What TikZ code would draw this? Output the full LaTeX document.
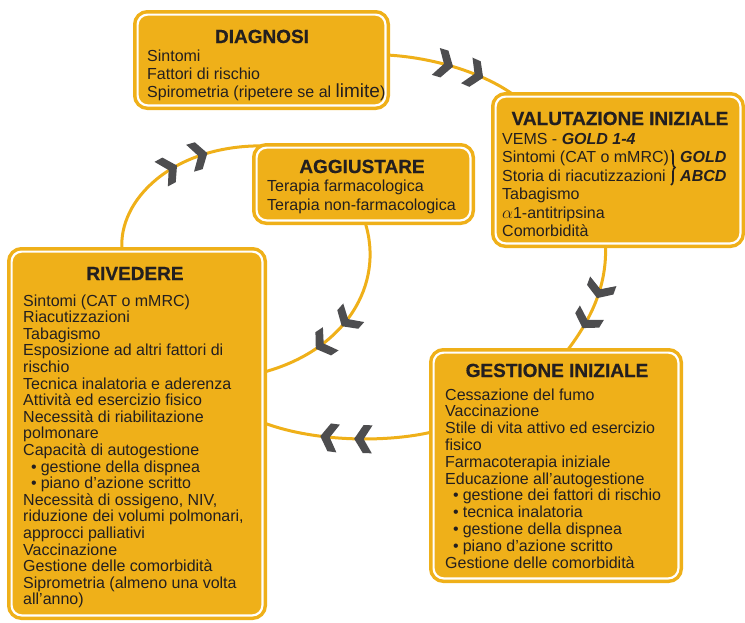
\documentclass[tikz,border=0pt]{standalone}
\usepackage{fontspec}
\setmainfont{Liberation Sans}
\usetikzlibrary{decorations.markings,decorations.pathreplacing,backgrounds}
\definecolor{gorange}{RGB}{239,176,25}
\definecolor{chevgray}{RGB}{77,77,79}
\definecolor{txt}{RGB}{35,31,32}
\newcommand\chevshape{\fill[chevgray] (0pt,0pt) -- (-9pt,14pt) -- (-18pt,14pt) -- (-9.5pt,0pt) -- (-18pt,-14pt) -- (-9pt,-14pt) -- cycle;}
\newcommand\bul{\hspace*{8pt}\textbullet\hspace{4pt}}
\begin{document}
\begin{tikzpicture}[x=1pt,y=-1pt,
  gbox/.style={draw=gorange, fill=gorange, line width=3.5pt, double=white, double distance=2.2pt, rounded corners=10pt, inner sep=0pt},
  ttl/.style={text=txt, font=\fontsize{19}{19}\selectfont\bfseries\addfontfeature{FakeBold=0.6}, inner sep=0pt, anchor=base},
  bdy/.style={text=txt, inner sep=0pt, anchor=base west},
  flow/.style={draw=gorange, line width=3pt},
  chevs/.style 2 args={postaction={decorate}, decoration={markings, mark=at position #1 with {\chevshape}, mark=at position #2 with {\chevshape}}}
]
\useasboundingbox (0,0) rectangle (745,622);

% boxes
\node[gbox, minimum width=247.8pt, minimum height=90.8pt] (diag) at (261.5,60) {};
\node[gbox, minimum width=244.8pt, minimum height=146.8pt] (val) at (618,170) {};
\node[gbox, minimum width=213.8pt, minimum height=72.8pt] (agg) at (363.5,184) {};
\node[gbox, minimum width=250.8pt, minimum height=363.8pt] (riv) at (137,433.5) {};
\node[gbox, minimum width=244.8pt, minimum height=225.8pt] (gest) at (556,465.5) {};

% titles
\node[ttl] (diagT) at (262,43) {DIAGNOSI};
\node[ttl] (valT) at (620,125) {VALUTAZIONE INIZIALE};
\node[ttl] (aggT) at (362,173) {AGGIUSTARE};
\node[ttl] (rivT) at (135,280) {RIVEDERE};
\node[ttl] (gestT) at (557,377) {GESTIONE INIZIALE};

% bodies
\node[bdy] (diagB) at (147,61.5) {\parbox[t]{240pt}{\fontsize{16}{18}\selectfont\raggedright
Sintomi\\
Fattori di rischio\\
Spirometria (ripetere se al {\fontsize{19}{18}\selectfont limite})}};

\node[bdy] (valB) at (502,144) {\parbox[t]{240pt}{\fontsize{16}{18.5}\selectfont\raggedright
VEMS - \textbf{\textit{GOLD 1-4}}\\
Sintomi (CAT o mMRC)\\
Storia di riacutizzazioni\\
Tabagismo\\
$\alpha$1-antitripsina\\
Comorbidità}};
\node[bdy, font=\fontsize{16}{18.5}\selectfont\bfseries\itshape] (gold) at (680,162.5) {GOLD};
\node[bdy, font=\fontsize{16}{18.5}\selectfont\bfseries\itshape] (abcd) at (680,181) {ABCD};
\draw[txt, line width=1.6pt, decorate, decoration={brace, amplitude=4pt}] (671,150) -- (671,185);

\node[bdy] (aggB) at (267,191) {\parbox[t]{240pt}{\fontsize{16}{19}\selectfont\raggedright
Terapia farmacologica\\
Terapia non-farmacologica}};

\node[bdy] (rivB) at (23,306) {\parbox[t]{250pt}{\fontsize{16}{16.6}\selectfont\raggedright
Sintomi (CAT o mMRC)\\
Riacutizzazioni\\
Tabagismo\\
Esposizione ad altri fattori di\\
rischio\\
Tecnica inalatoria e aderenza\\
Attività ed esercizio fisico\\
Necessità di riabilitazione\\
polmonare\\
Capacità di autogestione\\
\bul gestione della dispnea\\
\bul piano d’azione scritto\\
Necessità di ossigeno, NIV,\\
riduzione dei volumi polmonari,\\
approcci palliativi\\
Vaccinazione\\
Gestione delle comorbidità\\
Siprometria (almeno una volta\\
all’anno)}};

\node[bdy] (gestB) at (445,400) {\parbox[t]{250pt}{\fontsize{16}{16.8}\selectfont\raggedright
Cessazione del fumo\\
Vaccinazione\\
Stile di vita attivo ed esercizio\\
fisico\\
Farmacoterapia iniziale\\
Educazione all'autogestione\\
\bul gestione dei fattori di rischio\\
\bul tecnica inalatoria\\
\bul gestione della dispnea\\
\bul piano d’azione scritto\\
Gestione delle comorbidità}};

% connectors
\begin{scope}[on background layer]
\draw[flow, chevs={0.5}{0.74}] ([yshift=5pt]diag.east) .. controls (440,58) and (488,76) .. ([xshift=-104.5pt]val.north);
\draw[flow, chevs={0.47}{0.76}] ([xshift=-12.5pt]val.south) .. controls (607,285) and (592,318) .. ([xshift=11pt]gest.north);
\draw[flow, chevs={0.46}{0.66}] ([yshift=33.5pt]gest.west) .. controls (390,442) and (318,443) .. ([yshift=10.5pt]riv.east);
\draw[flow, chevs={0.55}{0.72}] ([xshift=-15pt]riv.north) .. controls (118,200) and (172,146) .. ([xshift=6pt]agg.north west);
\draw[flow, chevs={0.55}{0.72}] ([xshift=1.5pt]agg.south) .. controls (385,285) and (345,350) .. ([yshift=61.5pt]riv.east);
\end{scope}
\end{tikzpicture}
\end{document}
